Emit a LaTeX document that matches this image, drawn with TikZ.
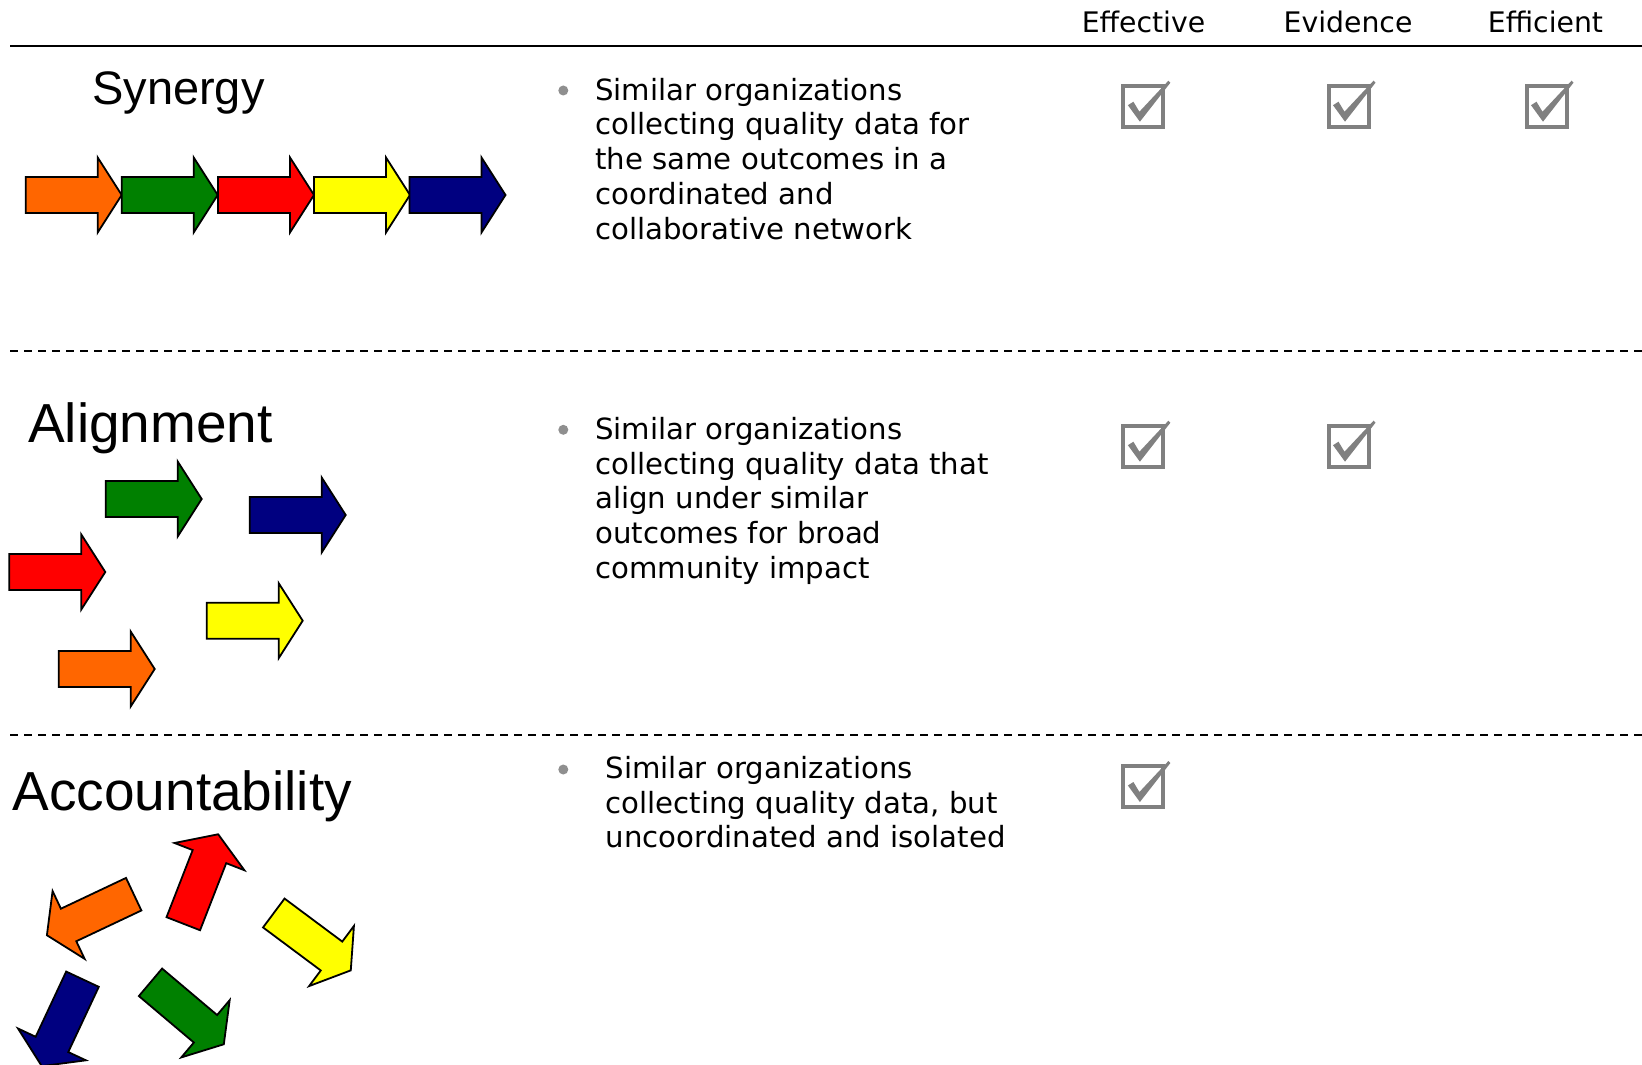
\documentclass[tikz,border=0pt]{standalone}
\usepackage{fontspec}
\setmainfont{DejaVu Sans}
\newfontfamily\arialf{Liberation Sans}
\definecolor{cOr}{HTML}{FF6600}
\definecolor{cGr}{HTML}{008000}
\definecolor{cRd}{HTML}{FF0000}
\definecolor{cYe}{HTML}{FFFF00}
\definecolor{cBl}{HTML}{000080}
\definecolor{cBox}{HTML}{808080}
\definecolor{cDot}{HTML}{8F8F8F}
\tikzset{
  arr/.pic={\draw[pic actions] (0,-18) -- (72,-18) -- (72,-37.5) -- (96,0) -- (72,37.5) -- (72,18) -- (0,18) -- cycle;},
  chk/.pic={\draw[cBox, line width=4] (-20,-20.5) rectangle (20,20.5);
            \fill[cBox] (-15.5,-1) -- (-10,-4.5) -- (-4,5.5) -- (25,-25.5) -- (27,-23.5) -- (-3.5,15.5) -- cycle;},
  arrow shape/.style={draw=black, line width=1.8, line join=miter},
  hdr/.style={font=\fontsize{28.3}{34}\selectfont, anchor=base, inner sep=0},
  body/.style={font=\fontsize{29.2}{35}\selectfont, anchor=base west, inner sep=0},
  ttl/.style={anchor=base west, inner sep=0},
  sep/.style={line width=1.8, dash pattern=on 8 off 6},
  dotb/.style={fill=cDot, draw=none}
}
\begin{document}
\begin{tikzpicture}[x=1pt,y=-1pt]
\useasboundingbox (0,0) rectangle (1642,1065);
% header
\node[hdr] (h1) at (1143.5,33) {Effective};
\node[hdr] (h2) at (1348,33) {Evidence};
\node[hdr] (h3) at (1545.5,33) {Efficient};
\draw[line width=2] (10,46.5) -- (1642,46.5);
\draw[sep] (10,351) -- (1642,351);
\draw[sep] (10,735) -- (1642,735);
% titles
\node[ttl, font=\arialf\fontsize{47}{50}\selectfont] (t1) at (92,105) {Synergy};
\node[ttl, font=\arialf\fontsize{55}{58}\selectfont] (t2) at (28,442) {Alignment};
\node[ttl, font=\arialf\fontsize{55}{58}\selectfont] (t3) at (12.5,810) {Accountability};
% synergy arrows
\pic[arrow shape, fill=cOr] at (25.7,195) {arr};
\pic[arrow shape, fill=cGr] at (121.7,195) {arr};
\pic[arrow shape, fill=cRd] at (218,195) {arr};
\pic[arrow shape, fill=cYe] at (314,195) {arr};
\pic[arrow shape, fill=cBl] at (409.5,195) {arr};
% alignment arrows
\pic[arrow shape, fill=cGr] at (105.7,499) {arr};
\pic[arrow shape, fill=cBl] at (249.7,515) {arr};
\pic[arrow shape, fill=cRd] at (9.3,572) {arr};
\pic[arrow shape, fill=cYe] at (206.7,620.7) {arr};
\pic[arrow shape, fill=cOr] at (58.7,669) {arr};
% accountability arrows
\pic[arrow shape, fill=cRd, rotate=68.7] at (183.3,923.7) {arr};
\pic[arrow shape, fill=cOr, rotate=205.3] at (133.7,894.2) {arr};
\pic[arrow shape, fill=cYe, rotate=-36.7] at (273.8,913) {arr};
\pic[arrow shape, fill=cGr, rotate=-40.2] at (150.5,982.3) {arr};
\pic[arrow shape, fill=cBl, rotate=-115.1] at (82.5,979.2) {arr};
% bullets row 1
\fill[dotb] (563.3,90.5) circle (5);
\node[body] (a1) at (595,100) {Similar organizations};
\node[body] (a2) at (595,134.8) {collecting quality data for};
\node[body] (a3) at (595,169.6) {the same outcomes in a};
\node[body] (a4) at (595,204.4) {coordinated and};
\node[body] (a5) at (595,239.2) {collaborative network};
% bullets row 2
\fill[dotb] (563.3,429.8) circle (5);
\node[body] (b1) at (595,439.3) {Similar organizations};
\node[body] (b2) at (595,474.1) {collecting quality data that};
\node[body] (b3) at (595,508.9) {align under similar};
\node[body] (b4) at (595,543.7) {outcomes for broad};
\node[body] (b5) at (595,578.5) {community impact};
% bullets row 3
\fill[dotb] (563.3,769.5) circle (5);
\node[body] (c1) at (605.5,778.3) {Similar organizations};
\node[body] (c2) at (605.5,813.1) {collecting quality data, but};
\node[body] (c3) at (605.5,847.9) {uncoordinated and isolated};
% check boxes
\pic at (1143.4,106.2) {chk};
\pic at (1348.5,106.2) {chk};
\pic at (1546.5,106.2) {chk};
\pic at (1143.4,446.2) {chk};
\pic at (1348.5,446.2) {chk};
\pic at (1143.4,786.5) {chk};
\end{tikzpicture}
\end{document}
